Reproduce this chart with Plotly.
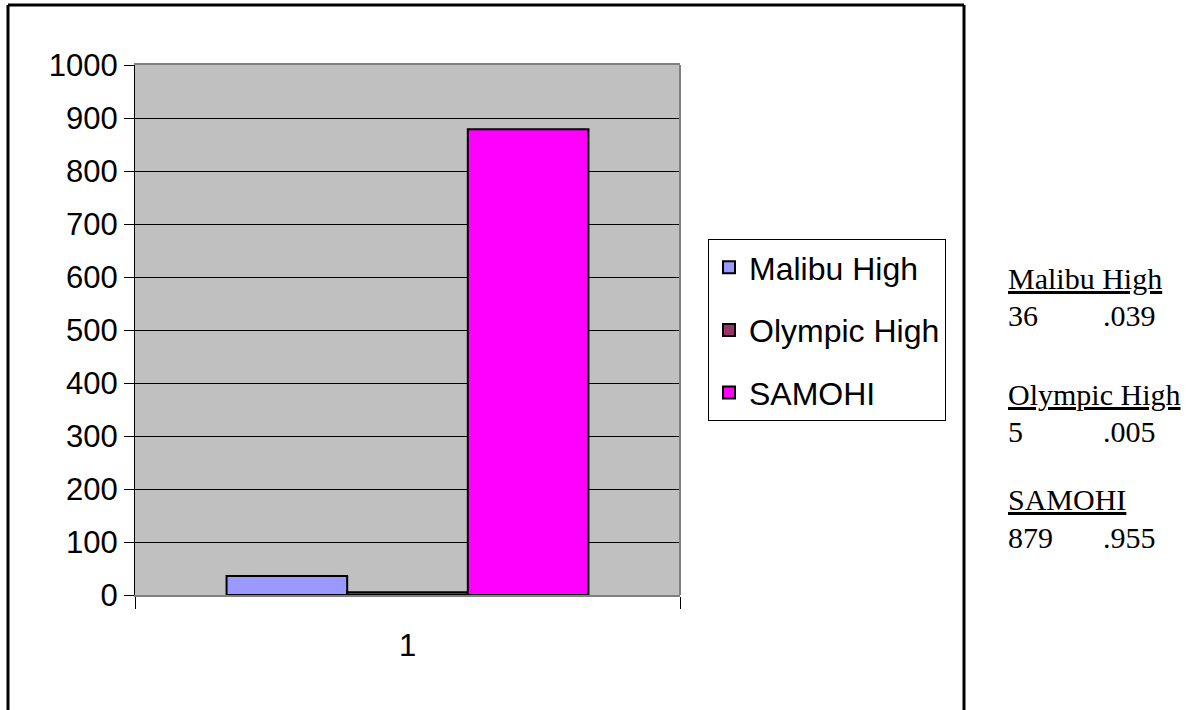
import plotly.graph_objects as go

# ---- data ----
categories = ["1"]
schools = ["Malibu High", "Olympic High", "SAMOHI"]
counts = [36, 5, 879]
shares = [".039", ".005", ".955"]
colors = ["#9999FF", "#993366", "#FF00FF"]
y_ticks = [0, 100, 200, 300, 400, 500, 600, 700, 800, 900, 1000]

W, H = 1196, 710
L, R, T, B = 135, 680, 65, 595  # plot area in pixels


def px(x):
    return (x - L) / (R - L)


def py(y):
    return (B - y) / (B - T)


fig = go.Figure()
for i, name in enumerate(schools):
    fig.add_trace(go.Bar(
        x=categories, y=[counts[i]], name=name,
        marker=dict(color=colors[i], line=dict(color="black", width=2)),
        legendgroup=name,
    ))

shapes = [
    # right edge of plot area
    dict(type="line", xref="paper", yref="paper", x0=1, x1=1, y0=0, y1=1,
         line=dict(color="#808080", width=2)),
    # outer frame (left, top, right)
    dict(type="line", xref="paper", yref="paper", x0=px(8), x1=px(8), y0=py(5), y1=py(720),
         line=dict(color="black", width=3)),
    dict(type="line", xref="paper", yref="paper", x0=px(8), x1=px(964), y0=py(5), y1=py(5),
         line=dict(color="black", width=3)),
    dict(type="line", xref="paper", yref="paper", x0=px(964), x1=px(964), y0=py(5), y1=py(720),
         line=dict(color="black", width=3)),
]

annotations = []
head_y = [278, 394, 499]
val_y = [315, 431, 537]
for i, name in enumerate(schools):
    annotations.append(dict(
        text="<u>" + name + "</u>", xref="paper", yref="paper",
        x=px(1006), y=py(head_y[i]), xanchor="left", yanchor="middle", showarrow=False,
        font=dict(family="Liberation Serif", size=30, color="black")))
    annotations.append(dict(
        text=str(counts[i]), xref="paper", yref="paper",
        x=px(1006), y=py(val_y[i]), xanchor="left", yanchor="middle", showarrow=False,
        font=dict(family="Liberation Serif", size=30, color="black")))
    annotations.append(dict(
        text=shares[i], xref="paper", yref="paper",
        x=px(1101), y=py(val_y[i]), xanchor="left", yanchor="middle", showarrow=False,
        font=dict(family="Liberation Serif", size=30, color="black")))

fig.update_layout(
    width=W, height=H,
    margin=dict(l=L, r=W - R, t=T, b=H - B, pad=0),
    paper_bgcolor="white", plot_bgcolor="#C0C0C0",
    barmode="group", bargap=0.336, bargroupgap=0,
    font=dict(family="Liberation Sans", size=31, color="black"),
    showlegend=True,
    legend=dict(
        x=px(708), y=py(239), xanchor="left", yanchor="top",
        bgcolor="white", bordercolor="black", borderwidth=1,
        font=dict(family="Liberation Sans", size=32, color="black"),
        tracegroupgap=18, traceorder="grouped",
    ),
    xaxis=dict(
        type="category", showgrid=False, showline=True, linecolor="#808080", linewidth=2,
        mirror=True, ticks="outside", tickson="boundaries", ticklen=12, tickcolor="black",
        tickwidth=1, tickfont=dict(size=31), zeroline=False, ticklabelstandoff=22,
    ),
    yaxis=dict(
        range=[0, 1000], tickvals=y_ticks, ticktext=[str(v) for v in y_ticks],
        showgrid=True, gridcolor="black", gridwidth=1,
        showline=True, linecolor="black", linewidth=1,
        ticks="outside", ticklen=10, tickcolor="black", tickwidth=1,
        tickfont=dict(size=31), zeroline=False,
    ),
    shapes=shapes, annotations=annotations,
)

fig.write_html("out.html", config={"displayModeBar": False},
               post_script="document.body.style.margin='0';")
